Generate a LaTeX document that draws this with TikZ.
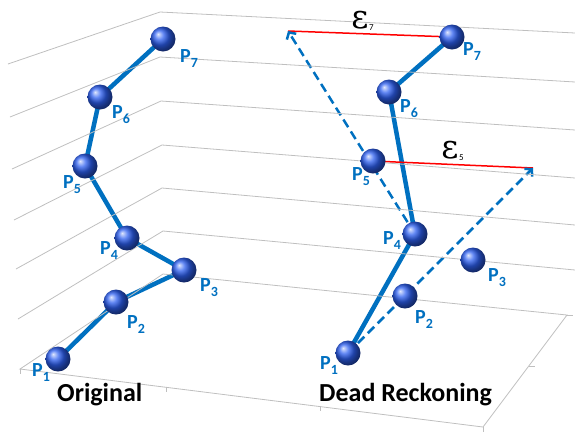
\documentclass[tikz,border=0pt]{standalone}
\usepackage{fontspec}
\setmainfont{Carlito}
\newfontfamily\epsfont{DejaVu Serif}
\usetikzlibrary{arrows.meta}
\pgfdeclarelayer{bg}
\pgfsetlayers{bg,main}
\definecolor{lineblue}{RGB}{0,112,192}
\definecolor{gridgray}{RGB}{191,191,191}
\definecolor{ballblue}{RGB}{45,95,240}
\newcommand{\psub}[1]{P\raisebox{-5pt}{\fontsize{14}{14}\selectfont #1}}
\begin{document}
\begin{tikzpicture}[x=1pt,y=-1pt,
  gridline/.style={draw=gridgray,line width=0.8pt},
  link/.style={draw=lineblue,line width=4.5pt},
  drarrow/.style={draw=lineblue,line width=2.5pt,dash pattern=on 9pt off 5pt,-{Straight Barb[length=5pt,width=11pt]}},
  errline/.style={draw=red,line width=1.5pt},
  sphere/.style={circle,minimum size=25pt,inner sep=0pt,ball color=ballblue},
  plabel/.style={anchor=base west,inner sep=0pt,text=lineblue,font=\fontsize{20}{20}\selectfont\bfseries},
  title/.style={anchor=base west,inner sep=0pt,font=\fontsize{26}{26}\selectfont\bfseries},
  epslab/.style={inner sep=0pt,font=\epsfont\fontsize{33}{33}\selectfont},
  epssub/.style={inner sep=0pt,font=\fontsize{9}{9}\selectfont}]
\useasboundingbox (0,0) rectangle (575,432);

% back walls
\draw[gridline] (8,64) -- (160,12) -- (575,33);
\draw[gridline] (10,117) -- (160,57) -- (575,82);
\draw[gridline] (12,169) -- (161,101) -- (575,130);
\draw[gridline] (14,220) -- (162,145) -- (575,178);
\draw[gridline] (16,269) -- (162,188) -- (575,225);
\draw[gridline] (18,319) -- (163,231) -- (575,270);
% floor
\draw[gridline] (20,369) -- (163,274) -- (567,315) -- (483,427) -- cycle;
\draw[gridline] (20,369) -- (20,374);
\draw[gridline] (166,387) -- (166,392);
\draw[gridline] (320,406) -- (320,411);
\draw[gridline] (483,427) -- (483,432);
\draw[gridline] (529,366) -- (535,366);
\draw[gridline] (567,315) -- (573,315);

% original chain
\node[sphere] (o1) at (58,359) {};
\node[sphere] (o2) at (116,302) {};
\node[sphere] (o3) at (184,270) {};
\node[sphere] (o4) at (127,238) {};
\node[sphere] (o5) at (85,166) {};
\node[sphere] (o6) at (100,97) {};
\node[sphere] (o7) at (163,39) {};

% dead reckoning
\node[sphere] (d1) at (348,353) {};
\node[sphere] (d2) at (405,296) {};
\node[sphere] (d3) at (473,260) {};
\node[sphere] (d4) at (415,234) {};
\node[sphere] (d5) at (373,161) {};
\node[sphere] (d6) at (389,92) {};
\node[sphere] (d7) at (452,37) {};

\coordinate (t5) at (533,168);
\coordinate (t7) at (288,31);

\begin{pgfonlayer}{bg}
\draw[link] (o1.center) -- (o2.center) -- (o3.center) -- (o4.center) -- (o5.center) -- (o6.center) -- (o7.center);
\draw[link] (d1.center) -- (d4.center) -- (d6.center) -- (d7.center);
\draw[errline] (t7) -- (d7.center);
\draw[errline] (d5.center) -- (t5);
\draw[drarrow] (d1.center) -- (t5);
\draw[drarrow] (d4.center) -- (t7);
\end{pgfonlayer}

% labels original
\node[plabel] (lo1) at (32,376) {\psub{1}};
\node[plabel] (lo2) at (127,328) {\psub{2}};
\node[plabel] (lo3) at (200,291) {\psub{3}};
\node[plabel] (lo4) at (100,254) {\psub{4}};
\node[plabel] (lo5) at (63,188) {\psub{5}};
\node[plabel] (lo6) at (112,118) {\psub{6}};
\node[plabel] (lo7) at (180,62) {\psub{7}};
% labels dead reckoning
\node[plabel] (ld1) at (320,369) {\psub{1}};
\node[plabel] (ld2) at (415,323) {\psub{2}};
\node[plabel] (ld3) at (488,281) {\psub{3}};
\node[plabel] (ld4) at (383,244) {\psub{4}};
\node[plabel] (ld5) at (352,180) {\psub{5}};
\node[plabel] (ld6) at (400,112) {\psub{6}};
\node[plabel] (ld7) at (463,55) {\psub{7}};

% epsilon labels
\node[epslab,anchor=base] (e7) at (360,28) {ε};
\node[epssub,anchor=base west] (e7s) at (369,30) {7};
\node[epslab,anchor=base] (e5) at (450,158) {ε};
\node[epssub,anchor=base west] (e5s) at (459,160) {5};

% titles
\node[title] (orig) at (57,401) {Original};
\node[title] (dead) at (319,401) {Dead Reckoning};
\end{tikzpicture}
\end{document}
